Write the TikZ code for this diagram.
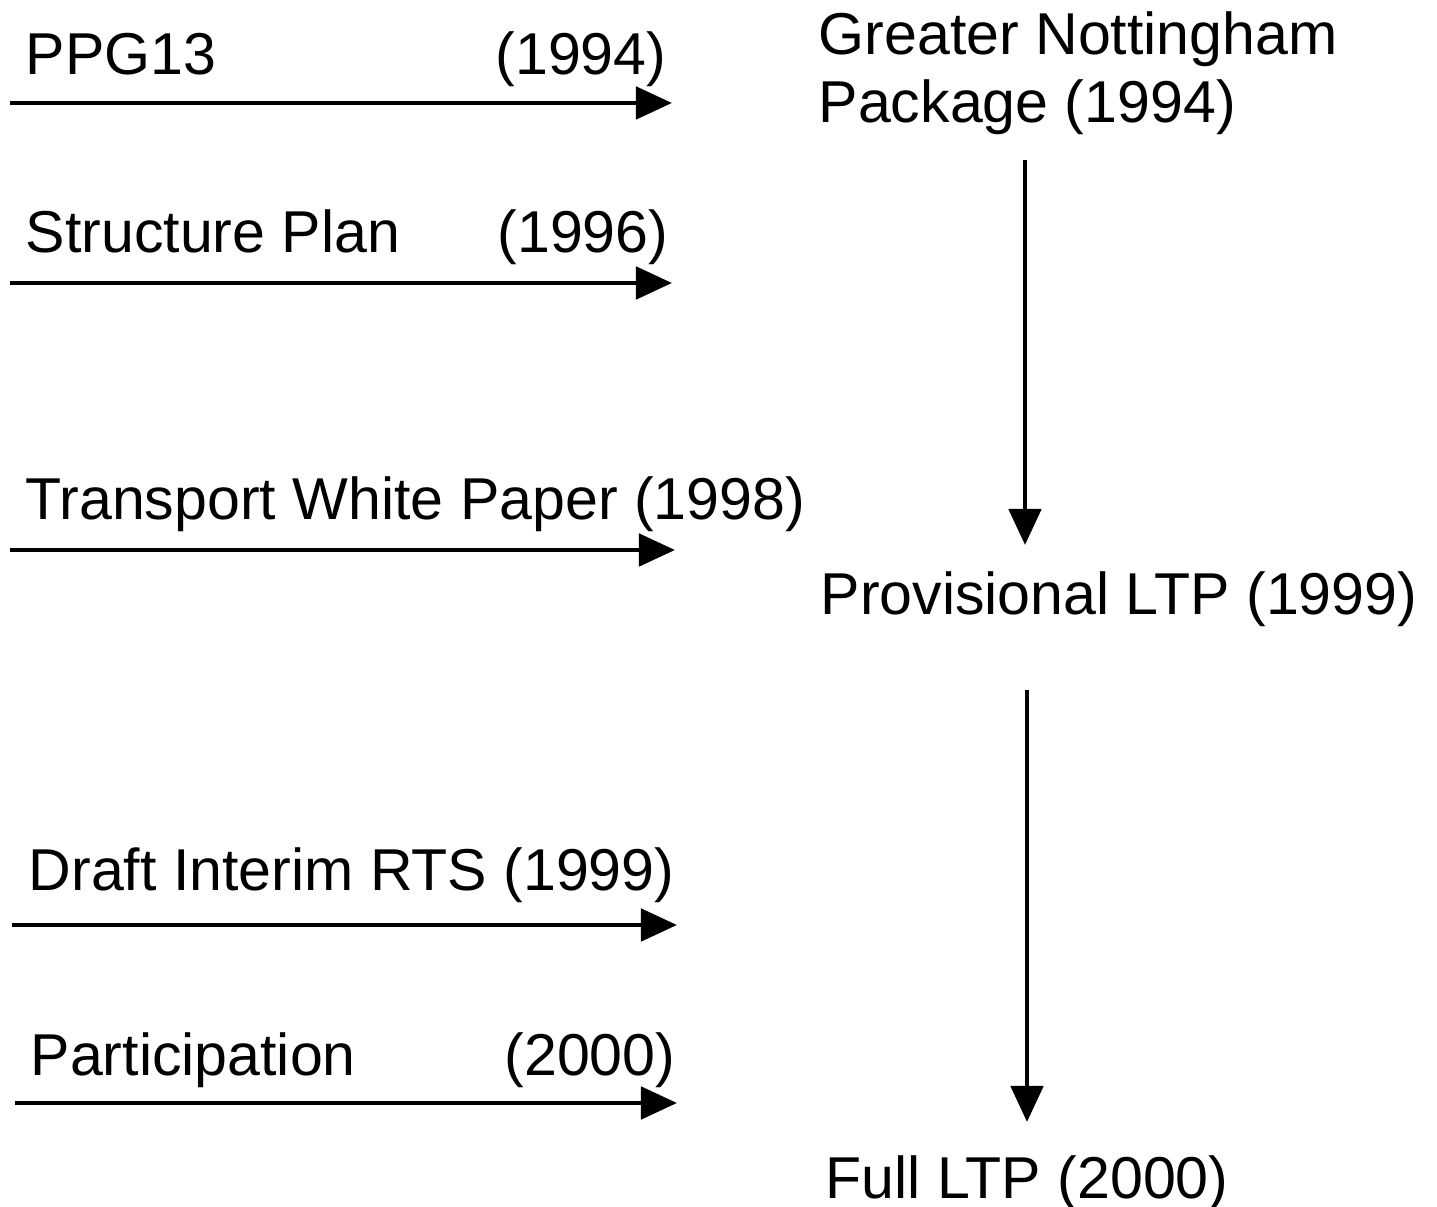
\documentclass[tikz,border=0pt]{standalone}
\usepackage{fontspec}
\setmainfont{Liberation Sans}
\usetikzlibrary{arrows.meta}

\tikzset{
  lbl/.style={inner sep=0pt,font=\fontsize{16.8}{20}\selectfont},
  flow/.style={line width=1.4pt,-{Triangle[length=0.36cm,width=0.32cm]}}
}

\begin{document}
\begin{tikzpicture}[x=0.01cm,y=-0.01cm]
\useasboundingbox (0,0) rectangle (1437,1207);

% inputs on the left
\node[lbl,anchor=base west] (ppg) at (25,75) {PPG13};
\node[lbl,anchor=base east] (ppgy) at (667,75) {(1994)};
\node[lbl,anchor=base west] (sp) at (25,253) {Structure Plan};
\node[lbl,anchor=base east] (spy) at (669,253) {(1996)};
\node[lbl,anchor=base west] (twp) at (25,520) {Transport White Paper (1998)};
\node[lbl,anchor=base west] (rts) at (28,890) {Draft Interim RTS (1999)};
\node[lbl,anchor=base west] (part) at (30,1075) {Participation};
\node[lbl,anchor=base east] (party) at (676,1075) {(2000)};

% plans on the right
\node[lbl,anchor=base west] (gnp) at (818,55) {Greater Nottingham};
\node[lbl,anchor=base west] (pkg) at (818,123) {Package (1994)};
\node[lbl,anchor=base west] (pltp) at (820,615) {Provisional LTP (1999)};
\node[lbl,anchor=base west] (fltp) at (825,1198) {Full LTP (2000)};

\coordinate (a1) at (10,103);   \coordinate (b1) at (672,103);
\coordinate (a2) at (10,283);   \coordinate (b2) at (672,283);
\coordinate (a3) at (10,550);   \coordinate (b3) at (675,550);
\coordinate (a4) at (12,925);   \coordinate (b4) at (677,925);
\coordinate (a5) at (15,1103);  \coordinate (b5) at (677,1103);
\coordinate (v1) at (1025,160); \coordinate (w1) at (1025,545);
\coordinate (v2) at (1027,690); \coordinate (w2) at (1027,1122);

\draw[flow] (a1) -- (b1);
\draw[flow] (a2) -- (b2);
\draw[flow] (a3) -- (b3);
\draw[flow] (a4) -- (b4);
\draw[flow] (a5) -- (b5);

\draw[flow] (v1) -- (w1);
\draw[flow] (v2) -- (w2);

\end{tikzpicture}
\end{document}
